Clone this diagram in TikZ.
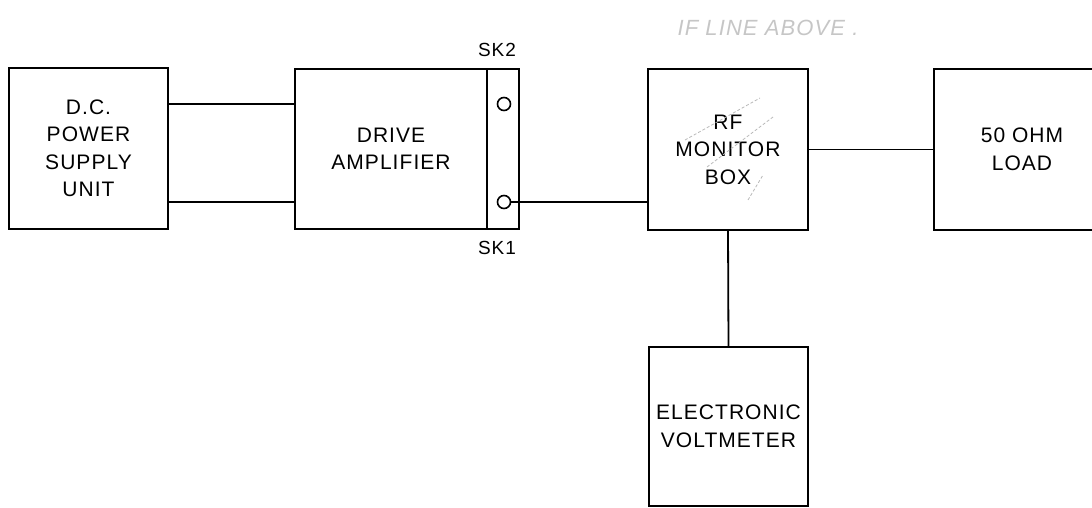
\documentclass[tikz,border=0pt]{standalone}
\usepackage{fontspec}
\setmainfont{Liberation Sans}[LetterSpace=5.0]
\usetikzlibrary{positioning}
\tikzset{
  % Block styles
  block/.style={rectangle, draw=black, line width=2pt, outer sep=0pt, minimum width=#1, minimum height=160pt, inner sep=0pt, text centered, align=center, font=\fontsize{21}{27.5}\selectfont},
  block/.default={160pt},
  strip/.style={rectangle, draw=black, line width=2pt, outer sep=0pt, minimum width=32pt, minimum height=160pt, inner sep=0pt},
  socket/.style={circle, draw=black, line width=1.6pt, minimum size=13pt, inner sep=0pt},
  sklabel/.style={font=\fontsize{19}{19}\selectfont},
  wire/.style={line width=1.8pt},
  % Hand-written marks
  note/.style={text=gray!45, font=\itshape\fontsize{22}{22}\selectfont},
  scribble/.style={draw=gray!55, line width=0.8pt, densely dashed},
}
\begin{document}
\begin{tikzpicture}[x=1pt, y=-1pt]
    \useasboundingbox (0,0) rectangle (1092,508);

    % Power supply and drive amplifier
    \node[block=159pt, minimum height=161pt] (psu) at (88.5,148.5) {D.C.\\POWER\\SUPPLY\\UNIT};
    \node[block=192pt] (amp) at (391,149) {DRIVE\\AMPLIFIER};
    \node[strip, right=0pt of amp] (strip) {};

    % Sockets
    \node[socket] (sk2) at (504,104) {};
    \node[socket] (sk1) at (504,202) {};
    \node[sklabel] (sk2label) at (497,50) {SK2};
    \node[sklabel] (sk1label) at (497,248) {SK1};

    % Monitor, load and meter
    \node[block, minimum height=161pt] (rf) at (728,149.5) {RF\\MONITOR\\BOX};
    \node[block=176pt, minimum height=161pt] (load) at (1022,149.5) {50 OHM\\LOAD};
    \node[block=159pt, minimum height=159pt] (volt) at (728.5,426.5) {ELECTRONIC\\VOLTMETER};

    % Wires
    \draw[wire] (psu.east |- sk2) -- (amp.west |- sk2);
    \draw[wire] (psu.east |- sk1) -- (amp.west |- sk1);
    \draw[wire] (sk1.east) -- (rf.west |- sk1);
    \draw[wire] (rf.east) -- (load.west);
    \draw[wire] (rf.south) -- (volt.north);

    % Pencil notes
    \node[note] (pencil) at (768,28) {IF LINE ABOVE .};
    \draw[scribble] (685,140) -- (760,98);
    \draw[scribble] (707,167) -- (773,117);
    \draw[scribble] (748,200) -- (763,175);
\end{tikzpicture}
\end{document}
